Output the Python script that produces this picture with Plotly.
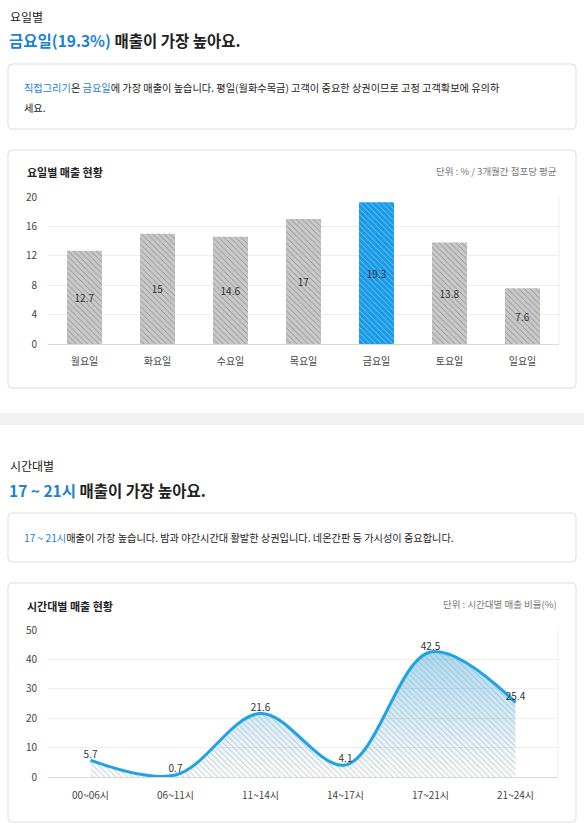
import plotly.graph_objects as go

W, H = 584, 829

# 요일별 데이터
days = ['월요일', '화요일', '수요일', '목요일', '금요일', '토요일', '일요일']
day_sales = [12.7, 15, 14.6, 17, 19.3, 13.8, 7.6]

# 시간대별 데이터
hours = ['00~06시', '06~11시', '11~14시', '14~17시', '17~21시', '21~24시']
hour_sales = [5.7, 0.7, 21.6, 4.1, 42.5, 25.4]

BLUE = '#1b82d6'
DARK = '#222222'
FONT = 'Noto Sans CJK KR'


def px(x):
    return x / W


def py(y):
    return 1 - y / H


def card(x0, y0, x1, y1, r=4):
    # 둥근 모서리 카드 (픽셀 -> paper 좌표)
    rx, ry = r / W, r / H
    a, b, c, d = px(x0), py(y0), px(x1), py(y1)
    path = (f'M {a+rx},{b} L {c-rx},{b} Q {c},{b} {c},{b-ry} '
            f'L {c},{d+ry} Q {c},{d} {c-rx},{d} L {a+rx},{d} '
            f'Q {a},{d} {a},{d+ry} L {a},{b-ry} Q {a},{b} {a+rx},{b} Z')
    return dict(type='path', path=path, xref='paper', yref='paper',
                line=dict(color='#dddddd', width=1), fillcolor='white', layer='below')


def text(x, y, s, size=11, color=DARK, anchor='left'):
    return dict(x=px(x), y=py(y), xref='paper', yref='paper', text=s, showarrow=False,
                xanchor=anchor, yanchor='middle', align=anchor,
                font=dict(family=FONT, size=size, color=color))


fig = go.Figure()

# 1. 요일별 막대 그래프
top = max(day_sales)
bar_colors = ['#1a9be8' if v == top else '#c8c8c8' for v in day_sales]
hatch_colors = ['#5cbcf3' if v == top else '#b8b8b8' for v in day_sales]
fig.add_trace(go.Bar(
    x=days, y=day_sales, text=[f'{v:g}' for v in day_sales],
    textposition='inside', insidetextanchor='middle', textangle=0,
    textfont=dict(family=FONT, size=10, color='#333333'),
    marker=dict(color=bar_colors, line=dict(width=0),
                pattern=dict(shape='\\', fillmode='overlay', fgcolor=hatch_colors,
                             size=4, solidity=0.2)),
    xaxis='x', yaxis='y', hoverinfo='x+y'
))

# 2. 시간대별 곡선 그래프 (그라데이션 + 빗금)
fig.add_trace(go.Scatter(
    x=hours, y=hour_sales, mode='none', line=dict(shape='spline'),
    fill='tozeroy',
    fillgradient=dict(type='vertical', start=0, stop=max(hour_sales),
                      colorscale=[[0, 'rgba(40,165,230,0)'], [1, 'rgba(40,165,230,0.4)']]),
    xaxis='x2', yaxis='y2', hoverinfo='skip'
))
fig.add_trace(go.Scatter(
    x=hours, y=hour_sales, mode='lines+text', text=[f'{v:g}' for v in hour_sales],
    textposition='top center', textfont=dict(family=FONT, size=10, color='#333333'),
    line=dict(shape='spline', color='#1ea3e4', width=3),
    fill='tozeroy', fillcolor='rgba(0,0,0,0)',
    fillpattern=dict(shape='\\', fgcolor='#999999', size=4, solidity=0.24),
    xaxis='x2', yaxis='y2'
))

axis_font = dict(family=FONT, size=10, color='#444444')

fig.update_layout(
    width=W, height=H, margin=dict(l=0, r=0, t=0, b=0, autoexpand=False),
    paper_bgcolor='white', plot_bgcolor='rgba(0,0,0,0)',
    showlegend=False, bargap=0.52,
    xaxis=dict(domain=[px(48), px(559)], type='category', showgrid=False,
               showline=True, linecolor='#d8d8d8', ticks='', tickfont=axis_font,
               ticklabelstandoff=8, fixedrange=True, automargin=False),
    yaxis=dict(domain=[py(344), py(197)], range=[0, 20], dtick=4,
               gridcolor='#eeeeee', zeroline=False, showline=False,
               tickfont=axis_font, ticklabelstandoff=10, fixedrange=True, automargin=False),
    xaxis2=dict(domain=[px(48), px(558)], type='category', range=[-0.5, len(hours) - 0.5],
                showgrid=False, showline=True, linecolor='#d8d8d8', ticks='',
                tickfont=axis_font, ticklabelstandoff=9, anchor='y2', fixedrange=True,
                automargin=False),
    yaxis2=dict(domain=[py(777), py(630)], range=[0, 50], dtick=10,
                gridcolor='#eeeeee', zeroline=False, showline=False,
                tickfont=axis_font, ticklabelstandoff=10, anchor='x2', fixedrange=True,
                automargin=False),
)

shapes = [
    card(8, 64, 576, 129),
    card(8, 150, 576, 388),
    card(8, 513, 576, 562),
    card(8, 583, 576, 822),
    # 구분 띠
    dict(type='rect', xref='paper', yref='paper', x0=0, x1=1, y0=py(425), y1=py(413),
         line=dict(width=0), fillcolor='#f1f1f1', layer='below'),
    # 그래프 오른쪽 테두리
    dict(type='line', xref='paper', yref='paper', x0=px(559), x1=px(559),
         y0=py(344), y1=py(197), line=dict(color='#eeeeee', width=1)),
    dict(type='line', xref='paper', yref='paper', x0=px(558), x1=px(558),
         y0=py(777), y1=py(630), line=dict(color='#eeeeee', width=1)),
]

annotations = [
    text(8, 16, '요일별', size=12),
    text(7, 40, f'<b><span style="color:{BLUE}">금요일(19.3%)</span> 매출이 가장 높아요.</b>', size=15.5),
    text(22, 88, f'<span style="color:{BLUE}">직접그리기</span>은 <span style="color:{BLUE}">금요일</span>'
                 '에 가장 매출이 높습니다. 평일(월화수목금) 고객이 중요한 상권이므로 고정 고객확보에 유의하', size=10.2),
    text(22, 107, '세요.', size=10.2),
    text(25, 172, '<b>요일별 매출 현황</b>', size=11),
    text(559, 171, '단위 : % / 3개월간 점포당 평균', size=9.5, color='#777777', anchor='right'),

    text(8, 465, '시간대별', size=12),
    text(7, 490, f'<b><span style="color:{BLUE}">17 ~ 21시</span> 매출이 가장 높아요.</b>', size=15.5),
    text(22, 537, f'<span style="color:{BLUE}">17 ~ 21시</span>매출이 가장 높습니다. 밤과 야간시간대 활발한 상권입니다. '
                  '네온간판 등 가시성이 중요합니다.', size=10.2),
    text(25, 606, '<b>시간대별 매출 현황</b>', size=11),
    text(559, 604, '단위 : 시간대별 매출 비율(%)', size=9.5, color='#777777', anchor='right'),
]

fig.update_layout(shapes=shapes, annotations=annotations)

# 페이지 기본 여백 제거, 모드바 숨김
fig.write_html('out.html', config={'displayModeBar': False},
               post_script="document.body.style.margin='0';")
